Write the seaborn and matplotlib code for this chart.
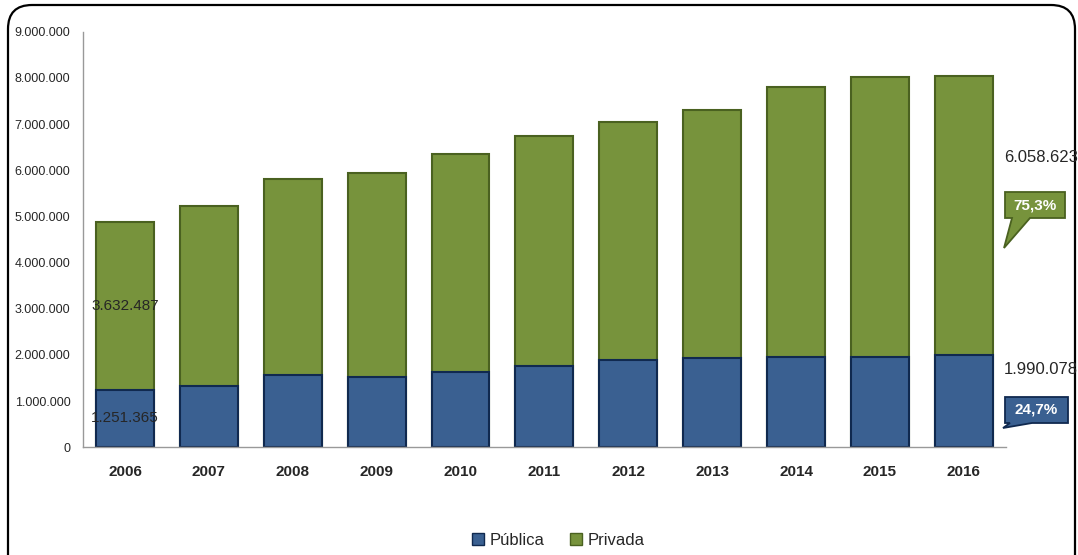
import matplotlib
matplotlib.use("Agg")
import matplotlib.pyplot as plt
from matplotlib import font_manager
from matplotlib.patches import FancyBboxPatch, Patch, Polygon
import pandas as pd
import seaborn as sns

# datos (matriculas por año)
years = ["2006", "2007", "2008", "2009", "2010", "2011", "2012", "2013", "2014", "2015", "2016"]
publica = [1251365, 1330000, 1566000, 1516000, 1640000, 1770000, 1890000, 1930000, 1950000, 1950000, 1990078]
privada = [3632487, 3900000, 4234000, 4434000, 4720000, 4960000, 5150000, 5370000, 5860000, 6060000, 6058623]
yticks = [0, 1000000, 2000000, 3000000, 4000000, 5000000, 6000000, 7000000, 8000000, 9000000]
pct_publica = "24,7%"
pct_privada = "75,3%"

azul = "#3A6091"
azul_borde = "#10294F"
verde = "#77933C"
verde_borde = "#4A6120"

sns.set_style("white")
installed = {f.name for f in font_manager.fontManager.ttflist}
narrow = "Liberation Sans Narrow" if "Liberation Sans Narrow" in installed else "Liberation Sans"
plt.rcParams["font.family"] = [narrow, "DejaVu Sans"]

df = pd.DataFrame({"year": years, "publica": publica, "privada": privada})
df["total"] = df["publica"] + df["privada"]


def miles(v):
    return f"{int(v):,}".replace(",", ".")


fig = plt.figure(figsize=(10.78, 5.55), dpi=100)
ax = fig.add_axes([0.077, 0.194, 0.856, 0.749])

# barras apiladas: total (verde) y publica (azul) encima
sns.barplot(data=df, x="year", y="total", color=verde, saturation=1, width=0.69,
            edgecolor=verde_borde, linewidth=1.5, ax=ax)
sns.barplot(data=df, x="year", y="publica", color=azul, saturation=1, width=0.69,
            edgecolor=azul_borde, linewidth=1.5, ax=ax)

ax.set_ylim(0, 9000000)
ax.set_xlim(-0.5, len(years) - 0.5)
ax.set_yticks(yticks)
ax.set_yticklabels([miles(v) for v in yticks], fontsize=9)
ax.set_xticks(range(len(years)))
ax.set_xticklabels(years, fontsize=11, fontweight="bold")
ax.set_xlabel("")
ax.set_ylabel("")
ax.set_xticks([i + 0.5 for i in range(-1, len(years))], minor=True)
ax.tick_params(axis="x", which="major", length=0, pad=13)
ax.tick_params(axis="x", which="minor", length=5, color="#999999", direction="out")
ax.tick_params(axis="y", length=5, color="#999999", direction="out", pad=4)

for s in ["top", "right"]:
    ax.spines[s].set_visible(False)
for s in ["left", "bottom"]:
    ax.spines[s].set_color("#999999")
    ax.spines[s].set_linewidth(1)

# etiquetas de la primera barra
ax.text(0, df["publica"][0] / 2, miles(df["publica"][0]), ha="center", va="center", fontsize=11)
ax.text(0, df["publica"][0] + df["privada"][0] / 2, miles(df["privada"][0]),
        ha="center", va="center", fontsize=11)

# etiquetas de la ultima barra a la derecha
fig.text(0.966, 0.717, miles(df["privada"].iloc[-1]), ha="center", va="center", fontsize=12)
fig.text(0.965, 0.335, miles(df["publica"].iloc[-1]), ha="center", va="center", fontsize=12)


# globos con porcentaje (coordenadas en pixeles de la imagen)
def globo(x0, x1, y0, y1, t0, t1, punta, texto, fc, ec):
    px = [(x0, y0), (x1, y0), (x1, y1), (t1, y1), punta, (t0, y1), (x0, y1)]
    pts = [(x / 100, (555 - y) / 100) for x, y in px]
    fig.add_artist(Polygon(pts, closed=True, transform=fig.dpi_scale_trans,
                           fc=fc, ec=ec, lw=1.3, joinstyle="miter"))
    fig.text((x0 + x1) / 2 / 1078, 1 - (y0 + y1) / 2 / 555, texto, ha="center", va="center",
             color="white", fontsize=11, fontweight="bold")


globo(1005, 1065, 192, 218, 1012, 1030, (1004, 248), pct_privada, verde, verde_borde)
globo(1005, 1068, 397, 423, 1010, 1032, (1003, 428), pct_publica, azul, azul_borde)

# leyenda
handles = [Patch(facecolor=azul, edgecolor=azul_borde, label="Pública"),
           Patch(facecolor=verde, edgecolor=verde_borde, label="Privada")]
fig.legend(handles=handles, loc="center", bbox_to_anchor=(0.518, 0.027), ncol=2,
           frameon=False, fontsize=12, handlelength=0.7, handleheight=0.7,
           handletextpad=0.35, columnspacing=1.5)

# marco redondeado
marco = FancyBboxPatch((0.08, -0.3), 10.67, 5.8, boxstyle="round,pad=0,rounding_size=0.24",
                       transform=fig.dpi_scale_trans, fill=False, ec="black", lw=1.6)
fig.add_artist(marco)

fig.savefig("out.png", dpi=100)
